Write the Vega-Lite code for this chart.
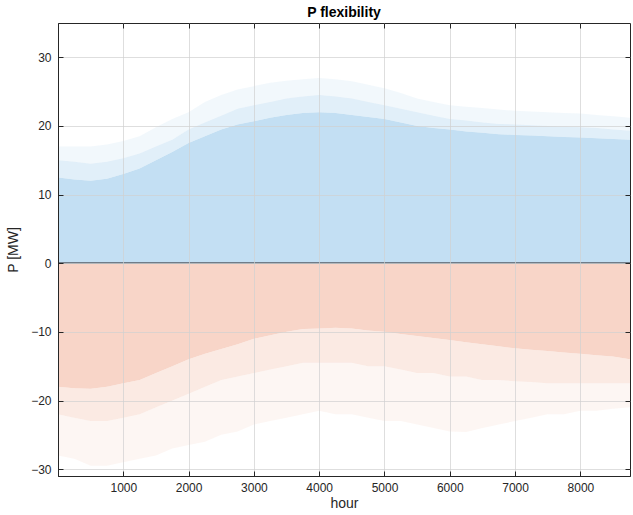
{
  "$schema": "https://vega.github.io/schema/vega-lite/v6.json",
  "width": 572,
  "height": 453,
  "autosize": {"type": "none"},
  "padding": {"left": 58, "top": 23, "right": 3, "bottom": 39},
  "background": "white",
  "config": {
    "font": "Liberation Sans",
    "view": {"stroke": "#262626", "strokeWidth": 1}
  },
  "title": {"text": "P flexibility", "fontSize": 14, "fontWeight": "bold", "color": "#000", "offset": 3, "anchor": "middle", "font": "Liberation Sans"},
  "data": {"values": [
    {"hour": 0, "pc": 12.5, "pm": 15, "pp": 17, "nc": -18, "nm": -22, "np": -28},
    {"hour": 250, "pc": 12.2, "pm": 14.8, "pp": 17, "nc": -18.2, "nm": -22.5, "np": -28.5},
    {"hour": 500, "pc": 12, "pm": 14.5, "pp": 17, "nc": -18.3, "nm": -23, "np": -29.5},
    {"hour": 750, "pc": 12.3, "pm": 14.8, "pp": 17.3, "nc": -18, "nm": -23, "np": -29.5},
    {"hour": 1000, "pc": 13, "pm": 15.3, "pp": 17.8, "nc": -17.5, "nm": -22.5, "np": -29},
    {"hour": 1250, "pc": 13.8, "pm": 16, "pp": 18.5, "nc": -17, "nm": -22, "np": -28.5},
    {"hour": 1500, "pc": 15, "pm": 17, "pp": 19.8, "nc": -16, "nm": -21, "np": -28},
    {"hour": 1750, "pc": 16.2, "pm": 18, "pp": 21, "nc": -15, "nm": -20, "np": -27},
    {"hour": 2000, "pc": 17.5, "pm": 19.5, "pp": 22, "nc": -14, "nm": -19, "np": -26.5},
    {"hour": 2250, "pc": 18.5, "pm": 20.5, "pp": 23.5, "nc": -13.2, "nm": -18, "np": -26},
    {"hour": 2500, "pc": 19.5, "pm": 21.5, "pp": 24.5, "nc": -12.5, "nm": -17, "np": -25},
    {"hour": 2750, "pc": 20.2, "pm": 22.5, "pp": 25.3, "nc": -11.8, "nm": -16.5, "np": -24.5},
    {"hour": 3000, "pc": 20.7, "pm": 23, "pp": 25.8, "nc": -11, "nm": -16, "np": -23.5},
    {"hour": 3250, "pc": 21.2, "pm": 23.5, "pp": 26.3, "nc": -10.5, "nm": -15.5, "np": -23},
    {"hour": 3500, "pc": 21.6, "pm": 24, "pp": 26.6, "nc": -10, "nm": -15, "np": -22.5},
    {"hour": 3750, "pc": 21.9, "pm": 24.3, "pp": 26.8, "nc": -9.6, "nm": -14.5, "np": -22},
    {"hour": 4000, "pc": 22, "pm": 24.5, "pp": 27, "nc": -9.5, "nm": -14.5, "np": -21.5},
    {"hour": 4250, "pc": 21.9, "pm": 24.3, "pp": 26.8, "nc": -9.4, "nm": -14.5, "np": -22},
    {"hour": 4500, "pc": 21.6, "pm": 24, "pp": 26.5, "nc": -9.5, "nm": -14.5, "np": -22},
    {"hour": 4750, "pc": 21.3, "pm": 23.5, "pp": 26, "nc": -9.8, "nm": -15, "np": -22.5},
    {"hour": 5000, "pc": 21, "pm": 23, "pp": 25.5, "nc": -10, "nm": -15, "np": -23},
    {"hour": 5250, "pc": 20.5, "pm": 22.5, "pp": 24.8, "nc": -10.3, "nm": -15.5, "np": -23},
    {"hour": 5500, "pc": 20, "pm": 22, "pp": 24, "nc": -10.6, "nm": -16, "np": -23.5},
    {"hour": 5750, "pc": 19.7, "pm": 21.5, "pp": 23.5, "nc": -10.9, "nm": -16, "np": -24},
    {"hour": 6000, "pc": 19.5, "pm": 21, "pp": 23, "nc": -11.2, "nm": -16.5, "np": -24.5},
    {"hour": 6250, "pc": 19.2, "pm": 20.8, "pp": 22.8, "nc": -11.5, "nm": -16.5, "np": -24.6},
    {"hour": 6500, "pc": 19, "pm": 20.5, "pp": 22.6, "nc": -11.8, "nm": -17, "np": -24},
    {"hour": 6750, "pc": 18.8, "pm": 20.3, "pp": 22.4, "nc": -12.1, "nm": -17, "np": -23.5},
    {"hour": 7000, "pc": 18.7, "pm": 20.2, "pp": 22.2, "nc": -12.4, "nm": -17.2, "np": -23},
    {"hour": 7250, "pc": 18.6, "pm": 20.1, "pp": 22.1, "nc": -12.6, "nm": -17.3, "np": -22.5},
    {"hour": 7500, "pc": 18.5, "pm": 20, "pp": 22, "nc": -12.8, "nm": -17.5, "np": -22},
    {"hour": 7750, "pc": 18.4, "pm": 19.9, "pp": 21.9, "nc": -13, "nm": -17.5, "np": -22},
    {"hour": 8000, "pc": 18.3, "pm": 19.8, "pp": 21.8, "nc": -13.2, "nm": -17.5, "np": -21.5},
    {"hour": 8250, "pc": 18.2, "pm": 19.7, "pp": 21.6, "nc": -13.4, "nm": -17.5, "np": -21.5},
    {"hour": 8500, "pc": 18.1, "pm": 19.5, "pp": 21.4, "nc": -13.6, "nm": -17.5, "np": -21.2},
    {"hour": 8760, "pc": 18, "pm": 19.3, "pp": 21.2, "nc": -14, "nm": -17.5, "np": -21}
  ]},
  "layer": [
    {"mark": {"type": "area", "color": "#c3dff3", "opacity": 1},
      "encoding": {
        "x": {"field": "hour", "type": "quantitative", "scale": {"domain": [0, 8760], "nice": false, "zero": false},
          "axis": {"title": "hour", "values": [1000, 2000, 3000, 4000, 5000, 6000, 7000, 8000], "format": "d", "tickSize": -5, "labelPadding": 11, "titlePadding": 3, "titleFontSize": 14, "titleFontWeight": "normal", "labelFontSize": 12, "labelColor": "#262626", "titleColor": "#262626", "domainColor": "#262626", "tickColor": "#262626", "gridColor": "#d0d0d0", "gridOpacity": 0.7, "zindex": 1}},
        "y": {"field": "pc", "type": "quantitative", "scale": {"domain": [-31, 35], "nice": false, "zero": false},
          "axis": {"title": "P [MW]", "values": [-30, -20, -10, 0, 10, 20, 30], "tickSize": -5, "labelPadding": 12, "titlePadding": 10, "titleFontSize": 14, "titleFontWeight": "normal", "labelFontSize": 12, "labelColor": "#262626", "titleColor": "#262626", "domainColor": "#262626", "tickColor": "#262626", "gridColor": "#d0d0d0", "gridOpacity": 0.7, "zindex": 1}},
        "y2": {"datum": 0}}},
    {"mark": {"type": "area", "color": "#c3dff3", "opacity": 0.5}, "encoding": {"x": {"field": "hour", "type": "quantitative", "axis": null}, "y": {"field": "pm", "type": "quantitative", "axis": null}, "y2": {"field": "pc"}}},
    {"mark": {"type": "area", "color": "#c3dff3", "opacity": 0.22}, "encoding": {"x": {"field": "hour", "type": "quantitative", "axis": null}, "y": {"field": "pp", "type": "quantitative", "axis": null}, "y2": {"field": "pm"}}},
    {"mark": {"type": "area", "color": "#f8d5c8", "opacity": 1}, "encoding": {"x": {"field": "hour", "type": "quantitative", "axis": null}, "y": {"field": "nc", "type": "quantitative", "axis": null}, "y2": {"datum": 0}}},
    {"mark": {"type": "area", "color": "#f8d5c8", "opacity": 0.5}, "encoding": {"x": {"field": "hour", "type": "quantitative", "axis": null}, "y": {"field": "nm", "type": "quantitative", "axis": null}, "y2": {"field": "nc"}}},
    {"mark": {"type": "area", "color": "#f8d5c8", "opacity": 0.22}, "encoding": {"x": {"field": "hour", "type": "quantitative", "axis": null}, "y": {"field": "np", "type": "quantitative", "axis": null}, "y2": {"field": "nm"}}},
    {"mark": {"type": "rule", "color": "#6f7c86", "strokeWidth": 1.2}, "encoding": {"y": {"datum": 0, "type": "quantitative", "axis": null}}},
    {"mark": {"type": "point", "opacity": 0},
      "encoding": {
        "x": {"field": "hour", "type": "quantitative", "axis": {"orient": "top", "title": null, "labels": false, "grid": false, "domain": false, "values": [1000, 2000, 3000, 4000, 5000, 6000, 7000, 8000], "tickSize": -5, "tickColor": "#262626", "zindex": 1}},
        "y": {"field": "pc", "type": "quantitative", "axis": {"orient": "right", "title": null, "labels": false, "grid": false, "domain": false, "values": [-30, -20, -10, 0, 10, 20, 30], "tickSize": -5, "tickColor": "#262626", "zindex": 1}}
      }}
  ],
  "resolve": {"axis": {"x": "independent", "y": "independent"}}
}
